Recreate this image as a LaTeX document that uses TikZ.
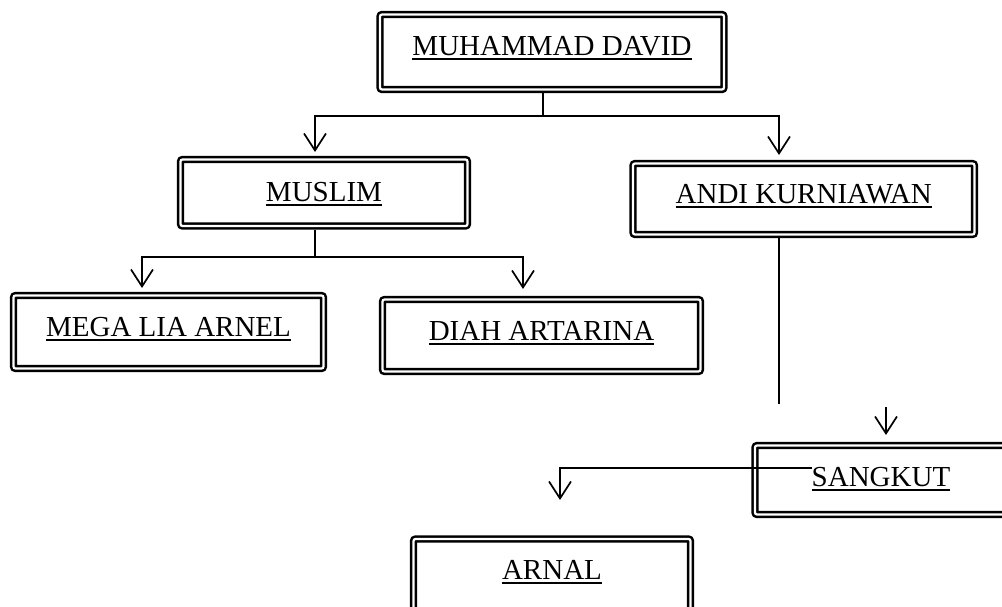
\documentclass[tikz,border=0pt]{standalone}
\usepackage{fontspec}
\setmainfont{Liberation Serif}
\usetikzlibrary{arrows.meta}
\newcommand{\myul}[1]{\setbox0=\hbox{#1}\rlap{\rule[-5pt]{\wd0}{1.8pt}}\box0}
\tikzset{
  famebox/.style={draw, double=white, double distance=2.2pt, line width=2.5pt,
    rounded corners=2pt, inner sep=0pt, outer sep=3.6pt, text height=19pt,
    font=\fontsize{29}{34}\selectfont},
  link/.style={line width=1.7pt},
  arr/.style={link, -{Straight Barb[length=17pt,width=22pt]}}
}
\begin{document}
\begin{tikzpicture}[x=1pt,y=-1pt]
\useasboundingbox (0,0) rectangle (1002,606);
\clip (0,0) rectangle (1002,606);
% boxes
\node[famebox, minimum width=344pt, minimum height=75pt, text depth=13pt] (MD) at (552,52) {\myul{MUHAMMAD DAVID}};
\node[famebox, minimum width=287pt, minimum height=66.5pt, text depth=2.5pt] (MUSLIM) at (324,192.75) {\myul{MUSLIM}};
\node[famebox, minimum width=341.5pt, minimum height=71pt, text depth=11pt] (ANDI) at (803.75,199) {\myul{ANDI KURNIAWAN}};
\node[famebox, minimum width=310pt, minimum height=73pt, text depth=11pt] (MEGA) at (168.5,332) {\myul{MEGA LIA ARNEL}};
\node[famebox, minimum width=318pt, minimum height=72pt, text depth=10pt] (DIAH) at (541.5,335.5) {\myul{DIAH ARTARINA}};
\node[famebox, minimum width=252pt, minimum height=69pt, text depth=7pt] (SANGKUT) at (881,480) {\myul{SANGKUT}};
\node[famebox, minimum width=277pt, minimum height=73pt, text depth=12pt] (ARNAL) at (552,575.5) {\myul{ARNAL}};
% junctions and free ends
\coordinate (j1) at (543,116);
\coordinate (t1) at (315,152);
\coordinate (t2) at (779,155);
\coordinate (j2) at (315,257);
\coordinate (t3) at (142,288);
\coordinate (t4) at (523,289);
\coordinate (e1) at (779,404);
\coordinate (s1) at (886,407);
\coordinate (t5) at (886,435);
\coordinate (s2) at (812,468);
\coordinate (t6) at (560,500);
% connectors
\draw[link] (MD.south -| j1) -- (j1);
\draw[arr] (j1) -| (t1);
\draw[arr] (j1) -| (t2);
\draw[link] (MUSLIM.south -| j2) -- (j2);
\draw[arr] (j2) -| (t3);
\draw[arr] (j2) -| (t4);
\draw[link] (ANDI.south -| e1) -- (e1);
\draw[arr] (s1) -- (t5);
\draw[arr] (s2) -| (t6);
\end{tikzpicture}
\end{document}
